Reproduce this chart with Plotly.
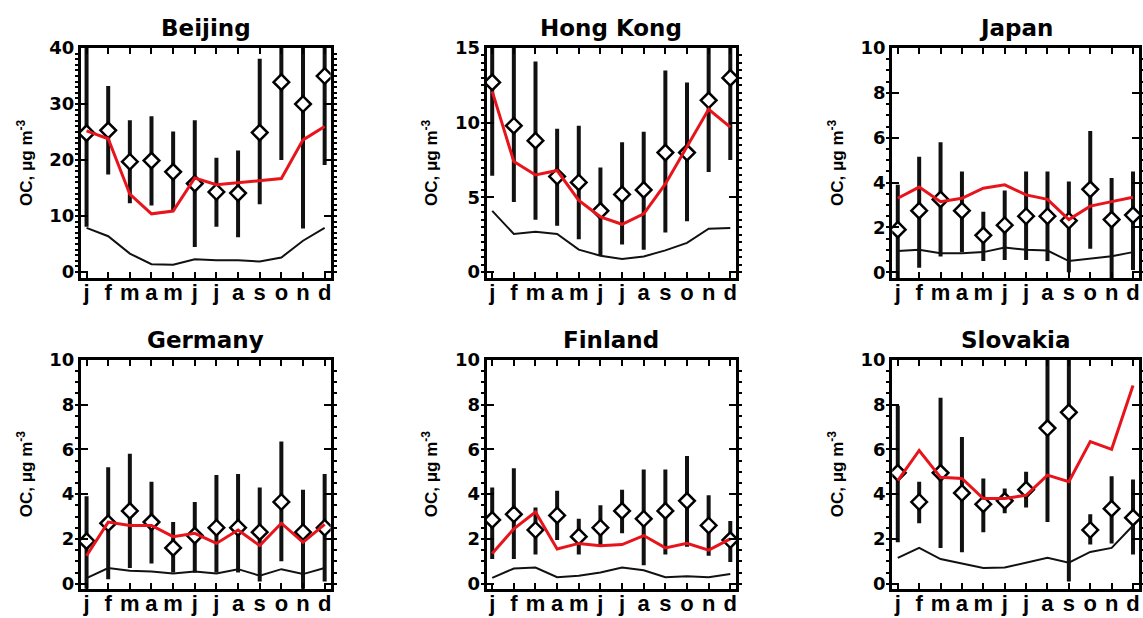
import plotly.graph_objects as go

months = [1, 2, 3, 4, 5, 6, 7, 8, 9, 10, 11, 12]
month_labels = ["j", "f", "m", "a", "m", "j", "j", "a", "s", "o", "n", "d"]

sites = ["Beijing", "Hong Kong", "Japan", "Germany", "Finland", "Slovakia"]

# observed monthly mean (diamonds)
obs_beijing = [24.8, 25.3, 19.7, 19.9, 17.9, 15.8, 14.3, 14.1, 24.9, 33.9, 30.0, 35.0]
obs_hongkong = [12.7, 9.8, 8.8, 6.4, 6.0, 4.1, 5.2, 5.5, 8.0, 8.0, 11.5, 13.0]
obs_japan = [1.9, 2.75, 3.25, 2.75, 1.65, 2.1, 2.5, 2.5, 2.3, 3.7, 2.35, 2.55]
obs_germany = [1.9, 2.7, 3.25, 2.75, 1.6, 2.15, 2.5, 2.5, 2.3, 3.65, 2.3, 2.5]
obs_finland = [2.85, 3.1, 2.4, 3.05, 2.1, 2.5, 3.25, 2.9, 3.25, 3.7, 2.6, 1.95]
obs_slovakia = [4.95, 3.65, 4.95, 4.05, 3.55, 3.7, 4.2, 6.95, 7.65, 2.4, 3.35, 2.95]

# observed range, upper end of bars
hi_beijing = [45, 33.2, 27.1, 27.8, 25.1, 27.1, 20.4, 21.7, 38.1, 45, 45, 45]
hi_hongkong = [16, 16, 14.1, 9.6, 9.8, 7.0, 8.7, 9.4, 13.5, 12.7, 16, 16]
hi_japan = [3.9, 5.15, 5.8, 4.5, 2.7, 3.65, 4.5, 4.5, 4.05, 6.3, 4.2, 4.5]
hi_germany = [3.9, 5.2, 5.8, 4.55, 2.75, 3.65, 4.85, 4.9, 4.3, 6.35, 4.2, 4.9]
hi_finland = [4.3, 5.15, 3.4, 4.15, 2.9, 3.5, 4.2, 5.1, 5.1, 5.7, 3.95, 2.8]
hi_slovakia = [7.95, 4.55, 8.3, 6.55, 4.7, 4.25, 5.0, 11, 11, 3.1, 4.8, 4.65]

# observed range, lower end of bars
lo_beijing = [8.1, 17.4, 12.3, 11.9, 10.9, 4.5, 8.1, 6.2, 12.1, 20.0, 7.8, 19.1]
lo_hongkong = [6.45, 4.7, 3.5, 3.1, 2.2, 1.15, 1.85, 1.5, 2.65, 3.4, 6.7, 7.5]
lo_japan = [-0.3, 0.2, 0.7, 0.9, 0.5, 0.55, 0.55, 0.5, 0.0, 1.05, -0.3, 0.1]
lo_germany = [-0.3, 0.2, 0.7, 0.9, 0.5, 0.5, 0.5, 0.5, 0.1, 1.0, -0.3, 0.1]
lo_finland = [1.1, 1.1, 1.3, 1.95, 1.3, 1.7, 2.25, 0.83, 1.3, 1.65, 1.25, 0.97]
lo_slovakia = [1.85, 2.7, 1.6, 1.4, 2.3, 3.15, 3.4, 2.75, 0.1, 1.75, 1.8, 1.3]

# model (red line)
mod_beijing = [25.2, 23.8, 13.9, 10.4, 10.9, 16.8, 15.6, 16.0, 16.4, 16.7, 23.6, 26.0]
mod_hongkong = [12.1, 7.4, 6.5, 6.8, 4.8, 3.7, 3.2, 3.9, 5.9, 8.4, 10.9, 9.7]
mod_japan = [3.3, 3.8, 3.15, 3.3, 3.75, 3.9, 3.45, 3.25, 2.35, 2.95, 3.15, 3.35]
mod_germany = [1.25, 2.75, 2.6, 2.6, 2.1, 2.25, 1.8, 2.4, 1.7, 2.7, 1.85, 2.65]
mod_finland = [1.35, 2.45, 3.2, 1.55, 1.8, 1.7, 1.75, 2.15, 1.6, 1.8, 1.5, 2.0]
mod_slovakia = [4.6, 5.95, 4.75, 4.7, 3.8, 3.8, 3.95, 4.85, 4.55, 6.35, 6.0, 8.85]

# second model / component (black line)
base_beijing = [7.9, 6.4, 3.3, 1.4, 1.3, 2.3, 2.1, 2.1, 1.9, 2.6, 5.6, 7.9]
base_hongkong = [4.1, 2.55, 2.7, 2.55, 1.5, 1.1, 0.87, 1.05, 1.45, 1.95, 2.9, 2.95]
base_japan = [0.95, 1.0, 0.85, 0.85, 0.9, 1.1, 1.0, 0.97, 0.5, 0.6, 0.72, 0.9]
base_germany = [0.25, 0.7, 0.58, 0.55, 0.46, 0.55, 0.46, 0.65, 0.36, 0.65, 0.43, 0.7]
base_finland = [0.26, 0.68, 0.72, 0.29, 0.36, 0.5, 0.72, 0.6, 0.29, 0.33, 0.29, 0.43]
base_slovakia = [1.15, 1.6, 1.1, 0.9, 0.7, 0.72, 0.94, 1.16, 0.94, 1.42, 1.6, 2.6]

obs = [obs_beijing, obs_hongkong, obs_japan, obs_germany, obs_finland, obs_slovakia]
hi = [hi_beijing, hi_hongkong, hi_japan, hi_germany, hi_finland, hi_slovakia]
lo = [lo_beijing, lo_hongkong, lo_japan, lo_germany, lo_finland, lo_slovakia]
mod = [mod_beijing, mod_hongkong, mod_japan, mod_germany, mod_finland, mod_slovakia]
base = [base_beijing, base_hongkong, base_japan, base_germany, base_finland, base_slovakia]

y_ticks = [[0, 10, 20, 30, 40], [0, 5, 10, 15], [0, 2, 4, 6, 8, 10],
           [0, 2, 4, 6, 8, 10], [0, 2, 4, 6, 8, 10], [0, 2, 4, 6, 8, 10]]
y_ranges = [[-1.04, 40], [-0.39, 15], [-0.25, 10], [-0.22, 10], [-0.22, 10], [-0.22, 10]]
y_minor = [1, 0.5, 0.5, 0.5, 0.5, 0.5]

W, H = 1143, 618
x_px = [(81, 331), (487, 737), (893, 1140)] * 2
y_px = [(38, 274)] * 3 + [(358, 593)] * 3

FONT = "DejaVu Sans, Liberation Sans, Arial, sans-serif"
FONT2 = "Liberation Sans, Arial, Helvetica, sans-serif"

fig = go.Figure()
annotations = []
for i in range(6):
    n = i + 1
    xa = "x" if n == 1 else f"x{n}"
    ya = "y" if n == 1 else f"y{n}"
    up = [h - o for h, o in zip(hi[i], obs[i])]
    dn = [o - l for o, l in zip(obs[i], lo[i])]
    fig.add_trace(go.Scatter(
        x=months, y=obs[i], mode="markers", xaxis=xa, yaxis=ya,
        marker=dict(symbol="diamond", size=12, color="white",
                    line=dict(color="black", width=2.5)),
        error_y=dict(type="data", symmetric=False, array=up, arrayminus=dn,
                     thickness=4, width=0, color="#111111"),
        showlegend=False, cliponaxis=True))
    fig.add_trace(go.Scatter(
        x=months, y=mod[i], mode="lines", xaxis=xa, yaxis=ya,
        line=dict(color="#e8141c", width=3), showlegend=False))
    fig.add_trace(go.Scatter(
        x=months, y=base[i], mode="lines", xaxis=xa, yaxis=ya,
        line=dict(color="#111111", width=2), showlegend=False))

    x0, x1 = x_px[i]
    y0, y1 = y_px[i]
    xd = [x0 / W, x1 / W]
    yd = [1 - y1 / H, 1 - y0 / H]
    xkey = "xaxis" if n == 1 else f"xaxis{n}"
    ykey = "yaxis" if n == 1 else f"yaxis{n}"
    fig.layout[xkey] = dict(
        domain=xd, anchor=ya, range=[0.74, 12.28],
        tickmode="array", tickvals=months, ticktext=month_labels,
        ticks="inside", ticklen=6, tickwidth=2, tickcolor="black",
        showline=True, linewidth=3, linecolor="black", mirror="ticks",
        showgrid=False, zeroline=False, ticklabelstandoff=-7,
        tickfont=dict(family=FONT2, size=22, color="black", weight="bold"))
    fig.layout[ykey] = dict(
        domain=yd, anchor=xa, range=y_ranges[i],
        tickmode="array", tickvals=y_ticks[i],
        ticks="inside", ticklen=7, tickwidth=2, tickcolor="black",
        showline=True, linewidth=3, linecolor="black", mirror="ticks",
        showgrid=False, zeroline=False,
        minor=dict(dtick=y_minor[i], tick0=0, ticks="outside", ticklen=3,
                   tickwidth=1.5, tickcolor="black", showgrid=False),
        tickfont=dict(family=FONT, size=18, color="black", weight="bold"),
        title=dict(text="<b>OC, μg m<sup>-3</sup></b>", standoff=13,
                   font=dict(family=FONT2, size=17, color="black")))
    annotations.append(dict(
        text=f"<b>{sites[i]}</b>", xref="paper", yref="paper",
        x=(xd[0] + xd[1]) / 2, y=yd[1], xanchor="center", yanchor="bottom",
        yshift=5, showarrow=False,
        font=dict(family=FONT, size=23, color="black")))

fig.update_layout(
    width=W, height=H, margin=dict(l=0, r=0, t=0, b=0),
    paper_bgcolor="white", plot_bgcolor="white",
    annotations=annotations, showlegend=False)

fig.write_html("out.html")
